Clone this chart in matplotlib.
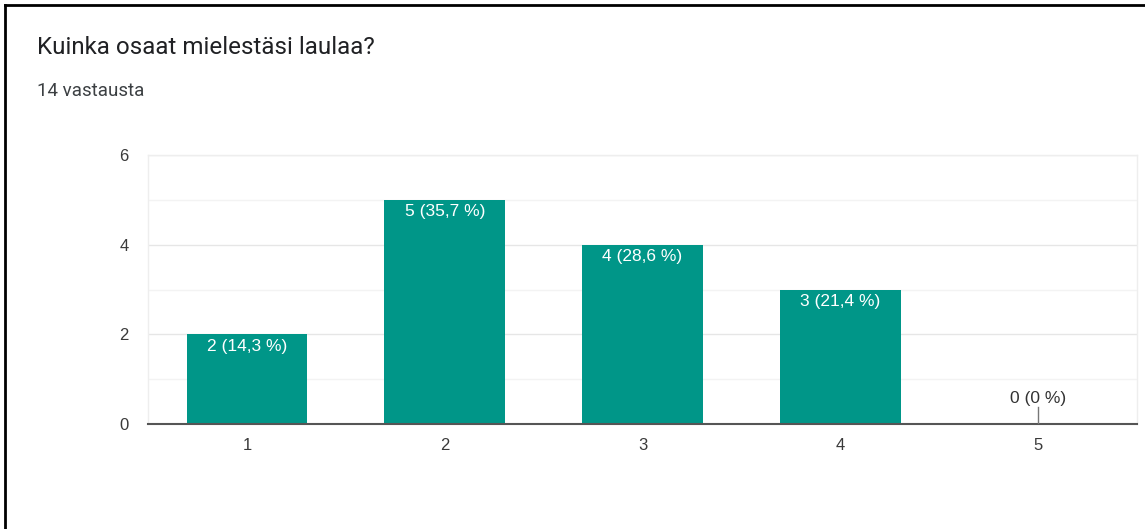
import matplotlib
matplotlib.use('Agg')
import matplotlib.pyplot as plt
from matplotlib.ticker import MultipleLocator

# data
categories = ["1", "2", "3", "4", "5"]
counts = [2, 5, 4, 3, 0]
labels = ["2 (14,3 %)", "5 (35,7 %)", "4 (28,6 %)", "3 (21,4 %)", "0 (0 %)"]

plt.rcParams['font.family'] = ['Liberation Sans', 'DejaVu Sans']

fig = plt.figure(figsize=(11.45, 5.29), dpi=100)
ax = fig.add_axes([148/1145, 1-424/529, (1137-148)/1145, (424-155)/529])

x = list(range(len(categories)))
ax.bar(x, counts, width=0.61, color="#009688", zorder=3)
ax.set_xlim(-0.5, len(categories)-0.5)
ax.set_ylim(0, 6)

ax.yaxis.set_major_locator(MultipleLocator(2))
ax.yaxis.set_minor_locator(MultipleLocator(1))
ax.grid(axis='y', which='major', color="#e6e6e6", lw=1, zorder=0)
ax.grid(axis='y', which='minor', color="#f3f3f3", lw=1, zorder=0)
ax.set_xticks(x)
ax.set_xticklabels(categories)
ax.tick_params(axis='both', which='both', length=0, labelsize=12, labelcolor="#3a3a3a")
ax.tick_params(axis='y', pad=14)
ax.tick_params(axis='x', pad=10)

for s in ['left', 'right', 'top']:
    ax.spines[s].set_color("#eeeeee")
    ax.spines[s].set_linewidth(1)
ax.spines['bottom'].set_color("#555555")
ax.spines['bottom'].set_linewidth(1.5)
ax.spines['bottom'].set_zorder(4)

# value labels
for xi, c, lab in zip(x, counts, labels):
    if c > 0:
        ax.annotate(lab, (xi, c), xytext=(0, -3), textcoords='offset points',
                    ha='center', va='top', color='white', fontsize=12.5, zorder=5)
    else:
        ax.plot([xi - 0.3, xi + 0.3], [0, 0], color="#b2dfdb", lw=1, zorder=3)
        ax.plot([xi, xi], [0, 0.37], color="#777777", lw=1, zorder=5)
        ax.annotate(lab, (xi, 0.37), xytext=(0, 1), textcoords='offset points',
                    ha='center', va='bottom', color='#333333', fontsize=12.5, zorder=5)

fig.text(37/1145, 1-48/529, "Kuinka osaat mielestäsi laulaa?", fontsize=17.4,
         color="#202124", va='center', ha='left', family=['Roboto', 'DejaVu Sans'])
fig.text(37/1145, 1-91/529, "14 vastausta", fontsize=13.5, color="#3c4043",
         va='center', ha='left', family=['Roboto', 'DejaVu Sans'])

# screenshot frame (top and left edges)
fig.add_artist(plt.Line2D([5/1145, 5/1145], [0, 1-5/529], color='black', lw=2,
                          transform=fig.transFigure))
fig.add_artist(plt.Line2D([5/1145, 1], [1-5/529, 1-5/529], color='black', lw=2,
                          transform=fig.transFigure))

fig.savefig("out.png", dpi=100)
